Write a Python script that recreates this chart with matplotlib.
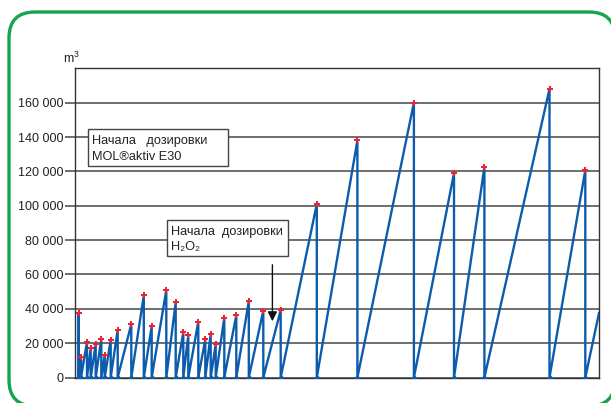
import matplotlib
matplotlib.use("Agg")
import matplotlib.pyplot as plt
from matplotlib.patches import FancyBboxPatch, Rectangle

plt.rcParams['font.family'] = ['Liberation Sans Narrow', 'Liberation Sans', 'DejaVu Sans']

# peaks of the sawtooth (x = day offset, y = m3); each peak drops back to 0
peak_x = [4.2, 6.5, 12.5, 16.2, 21.2, 26.8, 30.2, 36.2, 43.2, 56.8,
          69.3, 77.2, 91.8, 101.2, 108.8, 113.8, 123.8, 130.8, 136.2, 141.2,
          149.8, 161.8, 174.3, 188.8, 206.2, 242.3, 282.9, 339.4, 379.5, 409.9,
          475.0, 510.8]
peak_y = [37700, 12000, 20800, 17100, 19400, 22500, 13000, 21900, 27800, 31100,
          47800, 29900, 50900, 43900, 26200, 24900, 32500, 22300, 25200, 19400,
          34800, 36300, 44500, 38900, 39200, 101000, 138000, 160000, 119000, 122600,
          168000, 120700]
# last rising segment, cut by the right edge
tail_x = 524.5
tail_y = 37500

yticks = [0, 20000, 40000, 60000, 80000, 100000, 120000, 140000, 160000]
ytick_labels = ['0', '20 000', '40 000', '60 000', '80 000', '100 000',
                '120 000', '140 000', '160 000']

line_col = '#0b5cad'
grid_col = '#555555'

xs = [peak_x[0]]
ys = [0]
for px, py in zip(peak_x, peak_y):
    xs += [px, px]
    ys += [py, 0]
xs.append(tail_x)
ys.append(tail_y)

fig = plt.figure(figsize=(6.11, 4.03), dpi=100)

# green rounded frame behind everything
bg = fig.add_axes([0, 0, 1, 1], zorder=-5)
bg.set_xlim(0, 611)
bg.set_ylim(403, 0)
bg.axis('off')
bg.add_patch(FancyBboxPatch((9, 12), 606, 394, boxstyle='round,pad=0,rounding_size=26',
                            fc='white', ec='#12a650', lw=2.4))

ax = fig.add_axes([74.5 / 611, 1 - 377.5 / 403, (599 - 74.5) / 611, (377.5 - 68.3) / 403])
ax.set_facecolor('none')
ax.plot(xs, ys, color=line_col, lw=1.7, zorder=3, solid_joinstyle='miter')
ax.plot(peak_x, peak_y, ls='none', marker='P', ms=5, color='#ee2233', mew=0, zorder=4)
zero_x = [peak_x[0]] + peak_x
ax.plot(zero_x, [0] * len(zero_x), ls='none', marker='D', ms=2.5, color=line_col, zorder=4)

ax.set_xlim(0, 524.5)
ax.set_ylim(0, 180000)
ax.set_xticks([])
ax.set_yticks(yticks)
ax.set_yticklabels(ytick_labels, fontsize=9, color='#222222')
ax.tick_params(axis='y', length=7, width=1.2, color=grid_col, pad=1)
ax.grid(axis='y', color=grid_col, lw=1.2, zorder=1)
for s in ax.spines.values():
    s.set_color('#333333')
    s.set_linewidth(1.0)

# overlay for labels and callouts (pixel coordinates)
ov = fig.add_axes([0, 0, 1, 1], zorder=5)
ov.set_xlim(0, 611)
ov.set_ylim(403, 0)
ov.axis('off')
ov.patch.set_alpha(0)

ov.text(63, 58, r'm$^{\mathregular{3}}$', fontsize=9, ha='left', va='center', color='#222222')

ov.add_patch(Rectangle((88, 129), 140, 37, fc='white', ec='#444444', lw=1.0))
ov.text(92.5, 141, 'Начала   дозировки', fontsize=9.2, ha='left', va='center', color='#222222')
ov.text(92.5, 157, 'MOL®aktiv E30', fontsize=9.2, ha='left', va='center', color='#222222')

ov.add_patch(Rectangle((166.5, 219.5), 121.5, 36, fc='white', ec='#444444', lw=1.0))
ov.text(171, 231.5, 'Начала  дозировки', fontsize=9.2, ha='left', va='center', color='#222222')
ov.text(171, 247, 'H₂O₂', fontsize=9.2, ha='left', va='center', color='#222222')

ov.annotate('', xy=(272.4, 324), xytext=(272.4, 262),
            arrowprops=dict(arrowstyle='-|>', color='#111111', lw=1.0, mutation_scale=14))

fig.savefig('out.png', dpi=100)
